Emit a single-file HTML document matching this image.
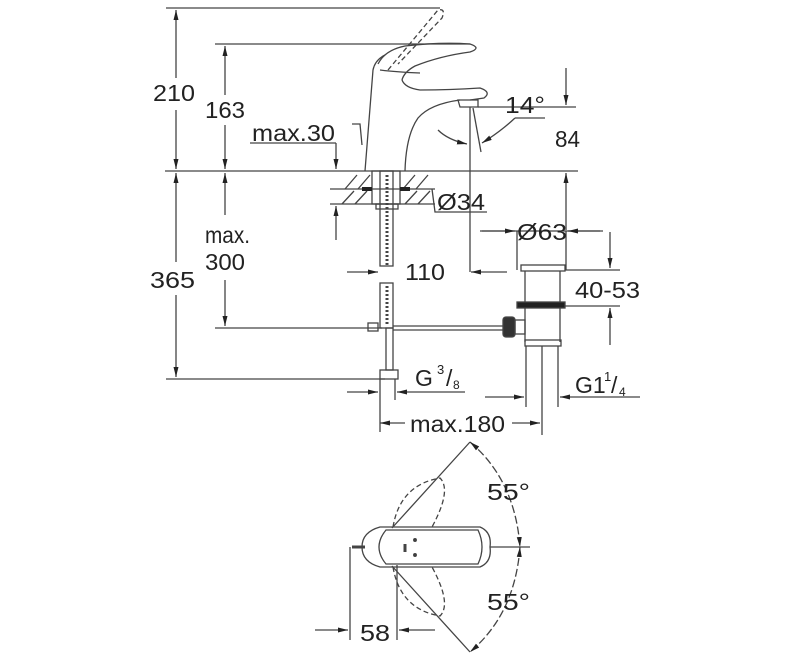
<!DOCTYPE html>
<html><head><meta charset="utf-8"><style>
html,body{margin:0;padding:0;background:#fff;}
svg{display:block;}
text{font-family:"Liberation Sans",sans-serif;fill:#222;}
</style></head><body>
<svg width="800" height="662" viewBox="0 0 800 662" xmlns="http://www.w3.org/2000/svg">
<defs>
<marker id="a" viewBox="0 0 10 6" refX="10" refY="3" markerWidth="10" markerHeight="6" orient="auto-start-reverse" markerUnits="userSpaceOnUse"><path d="M0,0.5 L10,3 L0,5.5 z" fill="#222"/></marker>
</defs>
<g stroke="#444" stroke-width="1.3" fill="none">
<line x1="166" y1="8" x2="440" y2="8"/>
<line x1="215" y1="44" x2="470" y2="44"/>
<line x1="165" y1="171" x2="578" y2="171"/>
<line x1="215" y1="328" x2="382" y2="328"/>
<line x1="166" y1="379" x2="385" y2="379"/>
<line x1="176" y1="10" x2="176" y2="78" marker-start="url(#a)"/>
<line x1="176" y1="110" x2="176" y2="169" marker-end="url(#a)"/>
<line x1="176" y1="173" x2="176" y2="262" marker-start="url(#a)"/>
<line x1="176" y1="295" x2="176" y2="377" marker-end="url(#a)"/>
<line x1="225" y1="46" x2="225" y2="95" marker-start="url(#a)"/>
<line x1="225" y1="125" x2="225" y2="169" marker-end="url(#a)"/>
<line x1="225" y1="173" x2="225" y2="215" marker-start="url(#a)"/>
<line x1="225" y1="280" x2="225" y2="326" marker-end="url(#a)"/>
<line x1="250" y1="143" x2="336" y2="143"/>
<line x1="336" y1="143" x2="336" y2="169" marker-end="url(#a)"/>
<line x1="336" y1="240" x2="336" y2="206" marker-end="url(#a)"/>
<line x1="478" y1="107" x2="576" y2="107"/>
<line x1="566" y1="68" x2="566" y2="105" marker-end="url(#a)"/>
<line x1="566" y1="230" x2="566" y2="173" marker-end="url(#a)"/>
<line x1="515" y1="118" x2="545" y2="118"/>
<path d="M515,118 Q500,132 482,143" marker-end="url(#a)"/>
<path d="M438,130 Q448,140 467,144" marker-end="url(#a)"/>
<line x1="470" y1="107" x2="470" y2="272"/>
<line x1="473" y1="108" x2="481" y2="152"/>
<path d="M365,171 L373,70 Q375,60 385,55"/>
<path d="M378,64 Q385,50 405,46 Q440,42 470,44 Q482,48 470,52 Q440,56 415,66 Q404,72 402,80"/>
<path d="M380,70 Q395,72 420,73"/>
<path d="M402,80 Q405,88 420,90 Q450,90 480,88 Q492,92 484,98 L470,100"/>
<path d="M405,171 Q406,135 418,118 Q430,104 460,100"/>
<path d="M458,100 L478,100 L478,107 L460,107 z"/>
<path d="M352,124 L360,124 L362,145"/>
<path d="M388,70 L438,10 Q446,8 442,18 L398,64" stroke-dasharray="5,3"/>
<line x1="330" y1="189" x2="435" y2="189"/>
<line x1="330" y1="204" x2="435" y2="204"/>
<path d="M345,189 l12,-14 M358,189 l12,-14 M342,204 l12,-13 M355,204 l12,-13 M403,189 l12,-14 M416,189 l12,-14 M405,204 l12,-13 M418,204 l12,-13"/>
<rect x="372" y="171" width="28" height="33"/>
<line x1="362" y1="189" x2="372" y2="189" stroke-width="4" stroke="#222"/>
<line x1="400" y1="189" x2="410" y2="189" stroke-width="4" stroke="#222"/>
<path d="M432,189 L435,212 L487,212"/>
<rect x="380" y="171" width="13" height="95"/>
<line x1="387" y1="175" x2="387" y2="266" stroke-dasharray="2,2" stroke-width="3"/>
<rect x="376" y="204" width="22" height="5"/>
<rect x="380" y="283" width="13" height="45"/>
<line x1="387" y1="286" x2="387" y2="326" stroke-dasharray="2,2" stroke-width="3"/>
<rect x="386" y="328" width="7" height="42"/>
<rect x="380" y="370" width="18" height="9"/>
<rect x="368" y="323" width="10" height="8"/>
<line x1="347" y1="272" x2="378" y2="272" marker-end="url(#a)"/>
<line x1="507" y1="272" x2="471" y2="272" marker-end="url(#a)"/>
<line x1="480" y1="231" x2="603" y2="231"/>
<line x1="482" y1="231" x2="515" y2="231" marker-end="url(#a)"/>
<line x1="600" y1="231" x2="568" y2="231" marker-end="url(#a)"/>
<line x1="517" y1="231" x2="517" y2="270"/>
<line x1="566" y1="231" x2="566" y2="270"/>
<rect x="521" y="265" width="44" height="6"/>
<line x1="525" y1="271" x2="525" y2="342"/>
<line x1="560" y1="271" x2="560" y2="342"/>
<rect x="517" y="302" width="48" height="6" fill="#222"/>
<rect x="525" y="340" width="36" height="6"/>
<line x1="565" y1="270" x2="620" y2="270"/>
<line x1="565" y1="306" x2="620" y2="306"/>
<line x1="610" y1="232" x2="610" y2="268" marker-end="url(#a)"/>
<line x1="610" y1="345" x2="610" y2="308" marker-end="url(#a)"/>
<line x1="393" y1="326" x2="505" y2="326"/>
<line x1="393" y1="330" x2="505" y2="330"/>
<rect x="503" y="317" width="12" height="20" rx="3" fill="#333"/>
<rect x="515" y="320" width="10" height="14"/>
<line x1="526" y1="346" x2="526" y2="407"/>
<line x1="558" y1="346" x2="558" y2="407"/>
<line x1="542" y1="346" x2="542" y2="435"/>
<line x1="380" y1="379" x2="380" y2="432"/>
<line x1="395" y1="379" x2="395" y2="400"/>
<line x1="347" y1="392" x2="378" y2="392" marker-end="url(#a)"/>
<line x1="465" y1="392" x2="397" y2="392" marker-end="url(#a)"/>
<line x1="485" y1="397" x2="524" y2="397" marker-end="url(#a)"/>
<line x1="640" y1="397" x2="560" y2="397" marker-end="url(#a)"/>
<line x1="380" y1="423" x2="405" y2="423" marker-start="url(#a)"/>
<line x1="512" y1="423" x2="540" y2="423" marker-end="url(#a)"/>
<path d="M380,527 L480,527 Q492,532 490,547 Q492,562 480,567 L380,567 Q362,562 362,547 Q362,532 380,527 z"/>
<path d="M386,530 L478,530 Q486,547 478,564 L386,564 Q372,547 386,530 z"/>
<line x1="352" y1="547" x2="365" y2="547" stroke-width="3"/>
<line x1="490" y1="547" x2="530" y2="547"/>
<line x1="405" y1="544" x2="405" y2="552" stroke-width="3"/>
<circle cx="415" cy="540" r="1.3" fill="#333"/>
<circle cx="415" cy="555" r="1.3" fill="#333"/>
<path d="M393,527 Q400,485 440,478 Q452,490 432,527" stroke-dasharray="5,3"/>
<path d="M393,567 Q400,609 440,616 Q452,604 432,567" stroke-dasharray="5,3"/>
<line x1="392" y1="528" x2="470" y2="442"/>
<line x1="392" y1="566" x2="470" y2="652"/>
<path d="M470,442 Q515,480 520,547" stroke-dasharray="8,3" marker-start="url(#a)" marker-end="url(#a)"/>
<path d="M520,547 Q515,614 470,652" stroke-dasharray="8,3" marker-start="url(#a)" marker-end="url(#a)"/>
<line x1="350" y1="547" x2="350" y2="640"/>
<line x1="397" y1="565" x2="397" y2="640"/>
<line x1="315" y1="630" x2="348" y2="630" marker-end="url(#a)"/>
<line x1="435" y1="630" x2="399" y2="630" marker-end="url(#a)"/>
</g>
<g font-size="23" lengthAdjust="spacingAndGlyphs">
<text x="153" y="101" textLength="42" lengthAdjust="spacingAndGlyphs">210</text>
<text x="205" y="118" textLength="40" lengthAdjust="spacingAndGlyphs">163</text>
<text x="252" y="141" textLength="83" lengthAdjust="spacingAndGlyphs">max.30</text>
<text x="505" y="113" textLength="40" lengthAdjust="spacingAndGlyphs">14°</text>
<text x="555" y="147" textLength="25" lengthAdjust="spacingAndGlyphs">84</text>
<text x="437" y="210" textLength="48" lengthAdjust="spacingAndGlyphs">Ø34</text>
<text x="205" y="243" textLength="45" lengthAdjust="spacingAndGlyphs">max.</text>
<text x="205" y="270" textLength="40" lengthAdjust="spacingAndGlyphs">300</text>
<text x="150" y="288" textLength="45" lengthAdjust="spacingAndGlyphs">365</text>
<text x="405" y="280" textLength="40" lengthAdjust="spacingAndGlyphs">110</text>
<text x="517" y="240" textLength="50" lengthAdjust="spacingAndGlyphs">Ø63</text>
<text x="575" y="298" textLength="65" lengthAdjust="spacingAndGlyphs">40-53</text>
<text x="415" y="386">G</text>
<text x="437" y="374" font-size="13">3</text>
<text x="446" y="386">/</text>
<text x="453" y="389" font-size="12">8</text>
<text x="575" y="393">G1</text>
<text x="604" y="381" font-size="13">1</text>
<text x="611" y="393">/</text>
<text x="619" y="396" font-size="12">4</text>
<text x="410" y="432" textLength="95" lengthAdjust="spacingAndGlyphs">max.180</text>
<text x="487" y="500" textLength="43" lengthAdjust="spacingAndGlyphs">55°</text>
<text x="487" y="610" textLength="43" lengthAdjust="spacingAndGlyphs">55°</text>
<text x="360" y="641" textLength="30" lengthAdjust="spacingAndGlyphs">58</text>
</g>
</svg>
</body></html>
